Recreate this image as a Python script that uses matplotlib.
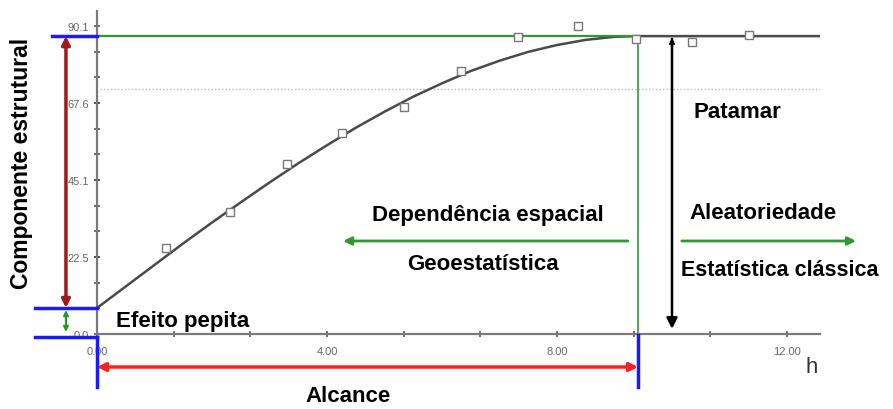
import numpy as np
import matplotlib
matplotlib.use("Agg")
import matplotlib.pyplot as plt

plt.rcParams['font.family'] = ['Liberation Sans', 'DejaVu Sans']

# semivariogram samples (lag h, semivariance)
lag_h = [1.20, 2.31, 3.30, 4.26, 5.34, 6.33, 7.32, 8.37, 9.37, 10.35, 11.34]
gamma_obs = [25.1, 35.7, 49.7, 58.8, 66.4, 76.9, 86.8, 90.1, 86.3, 85.4, 87.4]

# fitted model
model_h = [0, 0.5, 1, 1.5, 2, 2.5, 3, 3.5, 4, 4.5, 5, 5.5, 6, 6.5, 7, 7.5, 8, 8.5, 9, 9.41, 12.57]
model_g = [7.6, 13.9, 20.2, 26.5, 32.6, 38.5, 44.3, 49.9, 55.2, 60.3, 65.0, 69.4, 73.3,
           76.9, 79.9, 82.5, 84.5, 86.0, 86.9, 87.1, 87.1]

nugget = 7.6
sill = 87.1
alcance = 9.41
ref_line = 71.6

xticks = [0, 4, 8, 12]
xticklabels = ['0.00', '4.00', '8.00', '12.00']
yticks = [0, 22.5, 45.1, 67.6, 90.1]
yticklabels = ['0.0', '22.5', '45.1', '67.6', '90.1']

W, H = 893, 410
fig = plt.figure(figsize=(W / 100, H / 100), dpi=100)
ax = fig.add_axes([97 / W, 75 / H, 12.57 * 57.5 / W, 94.4 * 3.42 / H])
ax.set_xlim(0, 12.57)
ax.set_ylim(0, 94.4)

for s in ['top', 'right']:
    ax.spines[s].set_visible(False)
for s in ['left', 'bottom']:
    ax.spines[s].set_color('#7a7a7a')
    ax.spines[s].set_linewidth(1.6)

ax.set_xticks(xticks)
ax.set_xticklabels(xticklabels)
ax.set_xticks(np.arange(0, 12.6, 4 / 3), minor=True)
ax.set_yticks(yticks)
ax.set_yticklabels(yticklabels)
ax.set_yticks(np.arange(0, 91, 90.1 / 12), minor=True)
ax.tick_params(which='both', direction='inout', color='#555555', length=5, width=1.2,
               labelsize=8, labelcolor='#666666')
ax.tick_params(axis='x', pad=6)
ax.tick_params(axis='y', pad=3)

# reference dotted line
ax.plot([0.05, 12.57], [ref_line, ref_line], ls=(0, (1, 1.5)), color='#bbbbbb', lw=1)

# model curve and samples
ax.plot(model_h, model_g, color='#4a4a4a', lw=1.8, zorder=3)
ax.plot([0, alcance], [sill, sill], color='#2e9a2e', lw=1.6, zorder=4)
ax.plot([alcance, alcance], [0, sill], color='#5aa65a', lw=1.5, zorder=4)
ax.plot(lag_h, gamma_obs, ls='none', marker='s', ms=6, mfc='white', mec='#777777', mew=1, zorder=5)

blue = '#1a1aff'
kw = dict(clip_on=False, color=blue, lw=2.5, zorder=6)
ax.plot([-0.78, 0], [sill, sill], **kw)
ax.plot([-1.08, 0], [nugget, nugget], **kw)
ax.plot([-1.08, 0], [-0.9, -0.9], **kw)
ax.plot([0, 0], [-0.9, -15.5], **kw)
ax.plot([alcance, alcance], [-0.3, -15.5], **kw)

def arrow(x0, y0, x1, y1, color, style, lw=2.2, ms=14):
    ax.annotate('', xy=(x1, y1), xytext=(x0, y0), xycoords='data',
                arrowprops=dict(arrowstyle=style, color=color, lw=lw, mutation_scale=ms,
                                shrinkA=0, shrinkB=0), annotation_clip=False, zorder=7)

arrow(0, -9.65, alcance, -9.65, '#ff2020', '<|-|>', lw=2.5, ms=12)
arrow(-0.54, nugget, -0.54, sill, '#a01818', '<|-|>', lw=2.5, ms=12)
arrow(-0.54, 0.6, -0.54, 7.0, '#229922', '<|-|>', lw=1.5, ms=7)
arrow(10.0, 86.3, 10.0, 1.5, 'black', '-|>', lw=1.8, ms=16)
arrow(10.0, 84.0, 10.0, 86.6, 'black', '-|>', lw=1.5, ms=7)
arrow(9.23, 27.2, 4.28, 27.2, '#2e9a2e', '-|>', lw=2, ms=12)
arrow(10.17, 27.2, 13.2, 27.2, '#2e9a2e', '-|>', lw=2, ms=12)

def label(px, py, s, size=16, **kw):
    fig.text(px / W, 1 - py / H, s, fontweight='bold', fontsize=size, color='black',
             ha='center', va='center', **kw)

label(22, 163, 'Componente estrutural', size=16.5, rotation=90)
label(183, 321, 'Efeito pepita')
label(348, 397, 'Alcance')
label(737, 112, 'Patamar')
label(488, 216, 'Dependência espacial')
label(483, 265, 'Geoestatística')
label(763, 214, 'Aleatoriedade')
label(780, 270, 'Estatística clássica', size=15.5)
fig.text(812 / W, 1 - 368 / H, 'h', fontsize=16, color='#333333', ha='center', va='center')

fig.savefig('out.png', dpi=100)
